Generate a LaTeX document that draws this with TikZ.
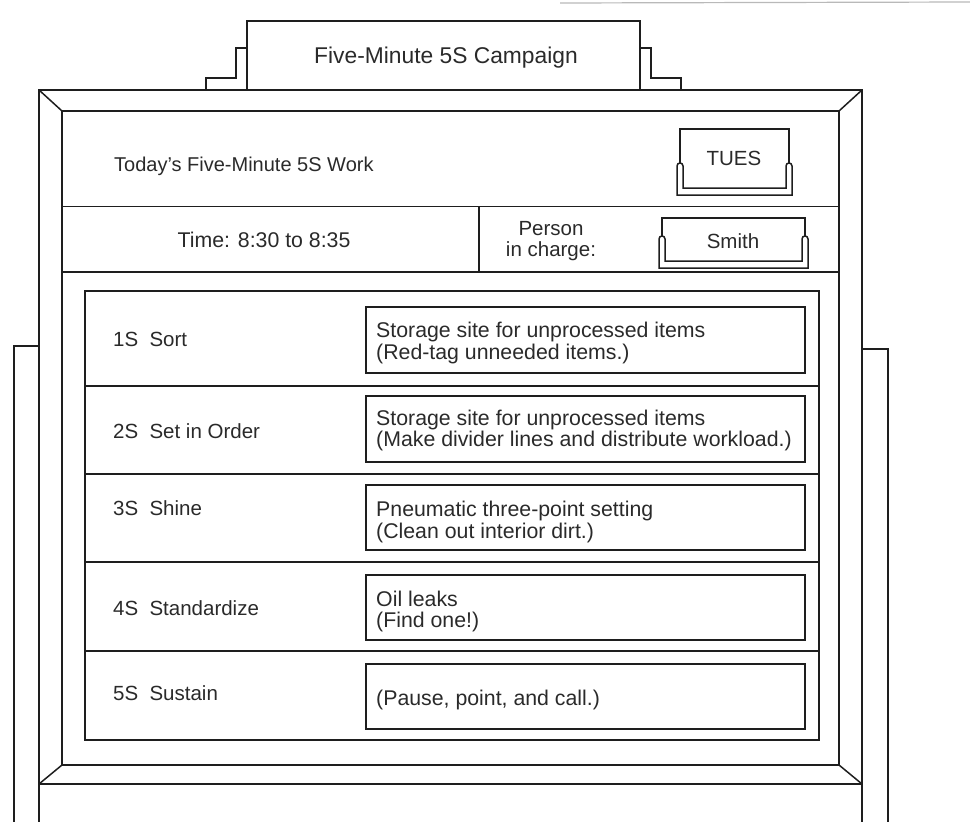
\documentclass[tikz,border=0pt]{standalone}
\usepackage{fontspec}
\setmainfont{Liberation Sans}
\definecolor{inkc}{HTML}{1E1E1E}
\definecolor{txtc}{HTML}{2A2A2A}
\newcommand\myholder[5]{%
  \draw[ln] ({#1},{#4-3}) -- ({#1},#3) -- ({#2},#3) -- ({#2},{#4-3});
  \draw[ln] ({#1-3},#4) .. controls ({#1-3},{#4-4}) and ({#1+3},{#4-4}) .. ({#1+3},#4)
     -- ({#1+3},{#5-7}) -- ({#2-3},{#5-7}) -- ({#2-3},#4)
     .. controls ({#2-3},{#4-4}) and ({#2+3},{#4-4}) .. ({#2+3},#4)
     -- ({#2+3},#5) -- ({#1-3},#5) -- cycle;
}
\begin{document}
\begin{tikzpicture}[x=1pt,y=-1pt,
  ln/.style={draw=inkc, line width=1.5pt, line join=miter},
  txt/.style={inner sep=0pt, text=txtc, font=\fontsize{20.5}{21.5}\selectfont},
  wtxt/.style={inner sep=0pt, text=txtc, font=\fontsize{21.3}{21.8}\selectfont},
  ttl/.style={inner sep=0pt, text=txtc, font=\fontsize{22.8}{24}\selectfont},
  lbl/.style={txt, anchor=base west},
  boxtxt/.style={wtxt, anchor=west, align=left}]
\useasboundingbox (0,0) rectangle (970,822);
% scan edge at top right
\draw[gray!55, line width=1.2pt] (560,3) -- (970,2);
% side panels behind the board
\draw[ln] (14,822) -- (14,346) -- (39,346);
\draw[ln] (862,349) -- (888,349) -- (888,822);
% title tab and steps
\draw[ln] (247,90) -- (247,21) -- (640,21) -- (640,90);
\draw[ln] (247,48) -- (236,48) -- (236,78) -- (206,78) -- (206,90);
\draw[ln] (640,48) -- (651,48) -- (651,78) -- (681,78) -- (681,90);
% outer frame
\draw[ln] (39,822) -- (39,90) -- (862,90) -- (862,822);
\draw[ln] (39,784) -- (862,784);
% inner bevel
\draw[ln] (62,111) rectangle (839,765);
\draw[ln] (39,90) -- (62,111);
\draw[ln] (862,90) -- (839,111);
\draw[ln] (39,784) -- (62,765);
\draw[ln] (862,784) -- (839,765);
% header rows
\draw[ln] (62,206.5) -- (839,206.5);
\draw[ln] (62,272) -- (839,272);
\draw[ln] (479,206.5) -- (479,272);
% cards
\myholder{680}{789}{129}{166}{195}
\myholder{662}{805}{218}{239}{268}
% inner panel with rows
\draw[ln] (85,291) rectangle (819,740);
\foreach \yy in {386,474,562,651} \draw[ln] (85,\yy) -- (819,\yy);
% item boxes
\draw[ln] (366,307) rectangle (805,373);
\draw[ln] (366,396) rectangle (805,462);
\draw[ln] (366,485) rectangle (805,550);
\draw[ln] (366,575) rectangle (805,640);
\draw[ln] (366,664) rectangle (805,729);
% texts
\node[ttl, anchor=base] (title) at (446,63.5) {Five-Minute 5S Campaign};
\node[lbl, font=\fontsize{20}{21}\selectfont] (today) at (114,171) {Today's Five-Minute 5S Work};
\node[txt] (tues) at (734,158) {TUES};
\node[wtxt] (time) at (264,240) {Time: 8:30 to 8:35};
\node[txt, align=center] (person) at (551,241) {Person\\in charge:};
\node[txt] (smith) at (733,241) {Smith};
\node[lbl] (s1) at (113,346) {1S\hspace{0.55em}Sort};
\node[lbl] (s2) at (113,438) {2S\hspace{0.55em}Set in Order};
\node[lbl] (s3) at (113,515) {3S\hspace{0.55em}Shine};
\node[lbl] (s4) at (113,615) {4S\hspace{0.55em}Standardize};
\node[lbl] (s5) at (113,700) {5S\hspace{0.55em}Sustain};
\node[boxtxt] (b1) at (376,343) {Storage site for unprocessed items\\(Red-tag unneeded items.)};
\node[boxtxt] (b2) at (376,430.5) {Storage site for unprocessed items\\(Make divider lines and distribute workload.)};
\node[boxtxt] (b3) at (376,522) {Pneumatic three-point setting\\(Clean out interior dirt.)};
\node[boxtxt] (b4) at (376,611.5) {Oil leaks\\(Find one!)};
\node[boxtxt] (b5) at (376,700) {(Pause, point, and call.)};
\end{tikzpicture}
\end{document}
